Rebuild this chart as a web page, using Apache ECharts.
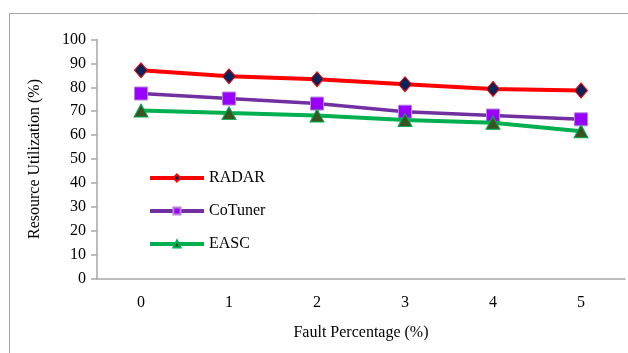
<!DOCTYPE html>
<html>
<head>
<meta charset="utf-8">
<script src="https://cdn.jsdelivr.net/npm/echarts@6/dist/echarts.min.js"></script>
<style>
  html, body { margin: 0; padding: 0; background: #fff; }
  #chart { width: 628px; height: 353px; }
</style>
</head>
<body>
<div id="chart"></div>
<script>
// Fault percentage categories on the x axis
const faultPercentages = ['0', '1', '2', '3', '4', '5'];

// Resource utilization (%) per scheme
const radarValues   = [87.1, 84.6, 83.4, 81.3, 79.3, 78.7];
const cotunerValues = [77.4, 75.3, 73.2, 69.8, 68.2, 66.6];
const eascValues    = [70.3, 69.2, 68.2, 66.3, 65.2, 61.6];

const seriesNames = ['RADAR', 'CoTuner', 'EASC'];

const FONT = '"Liberation Serif", "Times New Roman", serif';

const chart = echarts.init(document.getElementById('chart'), null, { renderer: 'canvas' });

chart.setOption({
  animation: false,
  backgroundColor: '#ffffff',
  textStyle: { fontFamily: FONT, color: '#000' },
  graphic: [
    {
      type: 'rect',
      shape: { x: 9.5, y: 13.5, width: 700, height: 400 },
      style: { fill: 'none', stroke: '#a6a6a6', lineWidth: 1 },
      silent: true
    }
  ],
  grid: { left: 97, right: 3, top: 39.5, bottom: 74.5 },
  legend: {
    orient: 'vertical',
    left: 148,
    top: 170,
    padding: 0,
    itemWidth: 54,
    itemHeight: 9,
    itemGap: 17,
    data: seriesNames,
    lineStyle: { width: 4 },
    textStyle: { fontFamily: FONT, fontSize: 16, color: '#000' }
  },
  xAxis: {
    type: 'category',
    data: faultPercentages,
    boundaryGap: true,
    name: 'Fault Percentage (%)',
    nameLocation: 'middle',
    nameGap: 46,
    nameTextStyle: { fontFamily: FONT, fontSize: 16, color: '#000' },
    axisLine: { lineStyle: { color: '#a6a6a6', width: 1.5 } },
    axisTick: { show: false },
    axisLabel: { fontFamily: FONT, fontSize: 16, color: '#000', margin: 16 },
    splitLine: { show: false }
  },
  yAxis: {
    type: 'value',
    min: 0,
    max: 100,
    interval: 10,
    name: 'Resource Utilization (%)',
    nameLocation: 'middle',
    nameGap: 54,
    nameTextStyle: { fontFamily: FONT, fontSize: 16, color: '#000' },
    axisLine: { show: true, lineStyle: { color: '#a6a6a6', width: 1.5 } },
    axisTick: { show: true, length: 6, lineStyle: { color: '#a6a6a6', width: 1.5 } },
    axisLabel: { fontFamily: FONT, fontSize: 16, color: '#000', margin: 11 },
    splitLine: { show: false }
  },
  series: [
    {
      name: seriesNames[0],
      type: 'line',
      data: radarValues,
      symbol: 'diamond',
      symbolSize: [13, 15],
      lineStyle: { color: '#ff0000', width: 4 },
      itemStyle: { color: '#0a2458', borderColor: '#ff0000', borderWidth: 1 },
      z: 3
    },
    {
      name: seriesNames[1],
      type: 'line',
      data: cotunerValues,
      symbol: 'rect',
      symbolSize: 13,
      lineStyle: { color: '#7030a0', width: 3.5 },
      itemStyle: { color: '#9900ff', borderColor: '#b784d6', borderWidth: 1 },
      z: 2
    },
    {
      name: seriesNames[2],
      type: 'line',
      data: eascValues,
      symbol: 'triangle',
      symbolSize: [14, 13],
      lineStyle: { color: '#00b050', width: 4 },
      itemStyle: { color: '#3b5321', borderColor: '#00b050', borderWidth: 1 },
      z: 4
    }
  ]
});
</script>
</body>
</html>
